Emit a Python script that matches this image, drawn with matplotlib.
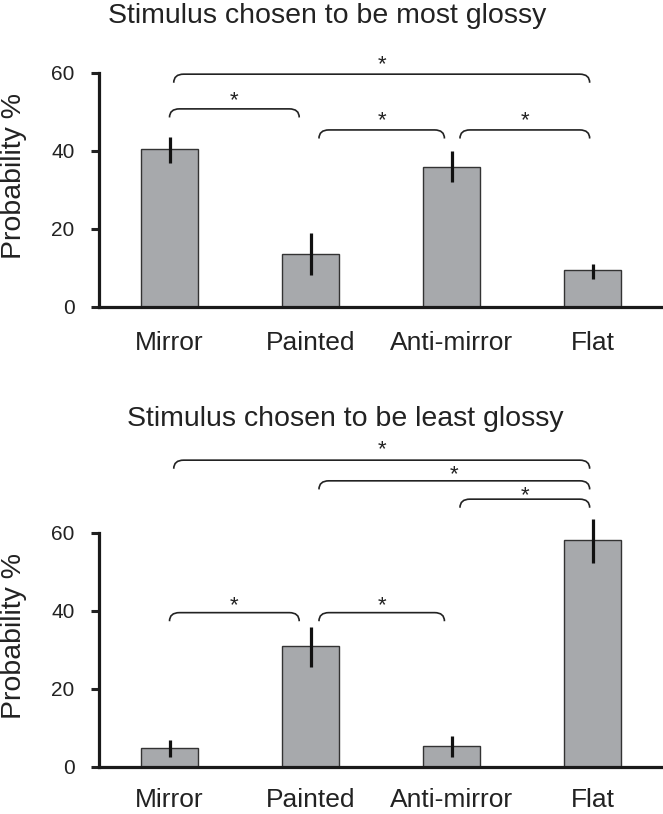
import matplotlib
matplotlib.use("Agg")
import matplotlib.pyplot as plt
from matplotlib.path import Path
from matplotlib.patches import PathPatch

plt.rcParams['font.family'] = ['Liberation Sans', 'DejaVu Sans']

categories = ['Mirror', 'Painted', 'Anti-mirror', 'Flat']

most_values = [40.4, 13.7, 36.0, 9.4]
most_low = [37.0, 8.1, 32.0, 7.3]
most_high = [43.5, 19.0, 40.0, 11.1]

least_values = [4.9, 30.9, 5.4, 58.1]
least_low = [2.6, 25.6, 2.6, 52.3]
least_high = [6.8, 35.9, 7.9, 63.4]

# significance brackets: (from index, to index, bracket height, star lift)
most_pairs = [(0, 3, 59.7, 3.3), (0, 1, 50.8, 3.1), (1, 2, 45.4, 3.3),
              (2, 3, 45.4, 3.3)]
least_pairs = [(0, 3, 78.6, 3.6), (1, 3, 73.3, 2.4), (2, 3, 68.6, 1.8),
               (0, 1, 39.5, 2.8), (1, 2, 39.5, 2.8)]

yticks = [0, 20, 40, 60]

W, H = 663, 814
fig = plt.figure(figsize=(W / 100, H / 100), dpi=100)

BAR = '#a7a9ac'


def bracket(ax, i, j, y, lift, drop=2.2):
    # rounded bracket spanning bar i to bar j, a small inset at each end
    x0 = i + (0.03 if i == 0 else 0.06)
    x1 = j - 0.05 if j < 3 else j - 0.02
    if i == 0 and j == 1:
        x0, x1 = i + 0.0, j - 0.08
    r = 0.07
    verts = [(x0, y - drop), (x0, y), (x0 + r, y), (x1 - r, y),
             (x1, y), (x1, y - drop)]
    codes = [Path.MOVETO, Path.CURVE3, Path.CURVE3, Path.LINETO,
             Path.CURVE3, Path.CURVE3]
    ax.add_patch(PathPatch(Path(verts, codes), fill=False, lw=1.2,
                           edgecolor='#222222', clip_on=False))
    ax.text((x0 + x1) / 2, y + lift - 2.3, '*', ha='center', va='baseline',
            fontsize=16, color='#222222', clip_on=False)


def panel(bottom_px, values, low, high, pairs, title, title_x, title_base,
          xpad):
    ax = fig.add_axes([99 / W, 1 - bottom_px / H, 564 / W, 234 / H])
    xs = range(len(categories))
    ax.bar(xs, values, width=0.4, color=BAR, edgecolor='#333333', lw=1.0,
           zorder=2)
    ax.vlines(xs, low, high, colors='#111111', lw=2.3, zorder=3, clip_on=False)
    ax.set_xlim(-0.5, 3.5)
    ax.set_ylim(0, 60)
    ax.set_yticks(yticks)
    ax.set_xticks(list(xs))
    ax.set_xticklabels(categories, fontsize=19, color='#222222')
    ax.tick_params(axis='x', length=0, pad=xpad)
    ax.tick_params(axis='y', length=5.5, width=2.2, pad=12, labelsize=15,
                   color='#222222', labelcolor='#222222')
    for s in ['top', 'right']:
        ax.spines[s].set_visible(False)
    for s in ['left', 'bottom']:
        ax.spines[s].set_linewidth(2.3)
        ax.spines[s].set_color('#1a1a1a')
    ax.patch.set_alpha(0)
    for i, j, y, lift in pairs:
        bracket(ax, i, j, y, lift)
    fig.text(title_x / W, 1 - title_base / H, title, ha='center',
             va='baseline', fontsize=20.5, color='#222222')
    fig.text(14 / W, 1 - (bottom_px - 131) / H, 'Probability %', rotation=90,
             ha='center', va='center', fontsize=20.5, color='#222222')
    return ax


panel(307, most_values, most_low, most_high, most_pairs,
      'Stimulus chosen to be most glossy', 327, 23, 17)
panel(766.7, least_values, least_low, least_high, least_pairs,
      'Stimulus chosen to be least glossy', 345, 426, 15.5)

fig.savefig('out.png', dpi=100)
